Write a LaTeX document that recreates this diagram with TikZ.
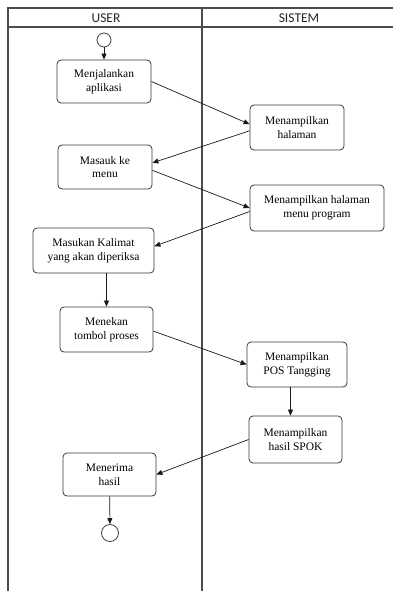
\documentclass[tikz,border=0pt]{standalone}
\usepackage{fontspec}
\setmainfont{Liberation Serif}
\newfontfamily\lanefont{Carlito}
\usetikzlibrary{positioning, arrows.meta, calc}

\begin{document}
\begin{tikzpicture}[
  x=1pt, y=-1pt,
  font=\fontsize{11.5}{13.5}\selectfont,
  act/.style={draw=black!78, line width=0.8pt, rounded corners=4pt, minimum height=44pt, align=center, fill=white, inner sep=2pt},
  dot/.style={draw=black!75, line width=0.8pt, circle, fill=white, inner sep=0pt},
  lane/.style={draw=black!70, line width=1.1pt},
  head/.style={font=\lanefont\fontsize{13.5}{15}\selectfont, text=black!85},
  arr/.style={-{Triangle[length=6pt, width=5pt]}, line width=0.7pt, black!90},
]
  \useasboundingbox (0,0) rectangle (393,591);
  % swimlanes
  \draw[lane] (7,8) -- (393,8);
  \draw[lane] (7,27) -- (393,27);
  \draw[lane] (8,8) -- (8,591);
  \draw[lane] (202,8) -- (202,591);
  \node[head] (user)   at (106,18) {USER};
  \node[head] (sistem) at (299,18) {SISTEM};
  % user lane
  \node[dot, minimum size=14pt] (start) at (104,40) {};
  \node[act, minimum width=94pt, minimum height=43pt] (jalan)  at (104,81.5) {Menjalankan\\aplikasi};
  \node[act, minimum width=94pt] (menu)   at (105,167) {Masauk ke\\menu};
  \node[act, minimum width=121pt, minimum height=45pt] (kalimat) at (93.5,250.5) {Masukan Kalimat\\yang akan diperiksa};
  \node[act, minimum width=93pt, minimum height=45pt] (proses) at (106.5,329.5) {Menekan\\tombol proses};
  \node[act, minimum width=93pt, minimum height=43pt] (terima) at (109.5,474.5) {Menerima\\hasil};
  \node[dot, minimum size=17pt] (stop) at (110,533) {};
  % sistem lane
  \node[act, minimum width=94pt, minimum height=45pt] (halaman) at (297,127.5) {Menampilkan\\halaman};
  \node[act, minimum width=134pt, minimum height=46pt] (program) at (317,208) {Menampilkan halaman\\menu program};
  \node[act, minimum width=100pt, minimum height=45pt] (pos)  at (297,364.5) {Menampilkan\\POS Tangging};
  \node[act, minimum width=93pt, minimum height=47pt] (spok) at (295.5,439.5) {Menampilkan\\hasil SPOK};
  % flow
  \draw[arr] (start) -- (jalan);
  \draw[arr] (jalan.east) -- (halaman.176);
  \draw[arr] (halaman.184) -- (menu.5);
  \draw[arr] (menu.356) -- (program.west);
  \draw[arr] (program.183) -- (kalimat.4);
  \draw[arr] (kalimat.south -| proses.north) -- (proses.north);
  \draw[arr] (proses.358) -- (pos.west);
  \draw[arr] ([xshift=-5pt]pos.south -| spok.north) -- ([xshift=-5pt]spok.north);
  \draw[arr] (spok.west) -- (terima.east);
  \draw[arr] (terima) -- (stop);
\end{tikzpicture}
\end{document}
